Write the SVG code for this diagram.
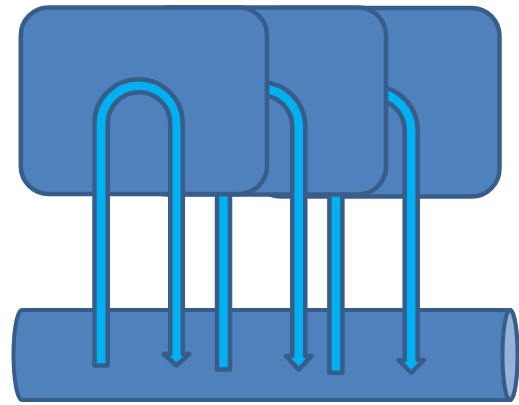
<svg xmlns="http://www.w3.org/2000/svg" width="519" height="405" viewBox="0 0 519 405">
  <style>
    .card { fill: #4F81BD; stroke: #385D8A; stroke-width: 4.5; }
    .loop { fill: #00B0F0; stroke: #385D8A; stroke-width: 4.5; stroke-linejoin: round; }
    .pipe { fill: #4F81BD; stroke: #385D8A; stroke-width: 4; }
    .pipe-end { fill: #95B3D7; stroke: #385D8A; stroke-width: 4; }
  </style>
  <rect width="519" height="405" fill="#FFFFFF"/>
  <g id="pipe">
    <path class="pipe" d="M22,310 H510 A7.5,45 0 0 1 510,400 H22 A8.5,45 0 0 1 22,310 Z"/>
    <ellipse class="pipe-end" cx="510" cy="355" rx="7.5" ry="45"/>
  </g>
  <g id="card3">
    <rect class="card" x="253.3" y="8" width="246.2" height="188.5" rx="28" ry="28"/>
  </g>
  <g id="connectors3">
    <path class="loop" d="M329.4,372.75 V130.4 A44.15,44.15 0 0 1 417.7,130.4 V360 H424 L411.2,372.75 L398.5,360 H404.7 V130.4 A31.15,31.15 0 0 0 342.4,130.4 V372.75 Z"/>
  </g>
  <g id="card2">
    <rect class="card" x="139.8" y="7.5" width="246.2" height="187" rx="28" ry="28"/>
  </g>
  <g id="connectors2">
    <path class="loop" d="M217,369.5 V126.4 A44.125,44.125 0 0 1 305.25,126.4 V356 H311.5 L298.75,369.5 L286,356 H292.25 V126.4 A31.125,31.125 0 0 0 230,126.4 V369.5 Z"/>
  </g>
  <g id="card1">
    <rect class="card" x="20.8" y="7.5" width="246.2" height="186.5" rx="28" ry="28"/>
  </g>
  <g id="connectors1">
    <path class="loop" d="M94.5,365.5 V123.4 A44.125,44.125 0 0 1 182.75,123.4 V354 H189.25 L176.5,365.5 L163.75,354 H170.25 V123.4 A31.25,31.25 0 0 0 107.75,123.4 V365.5 Z"/>
  </g>
</svg>
